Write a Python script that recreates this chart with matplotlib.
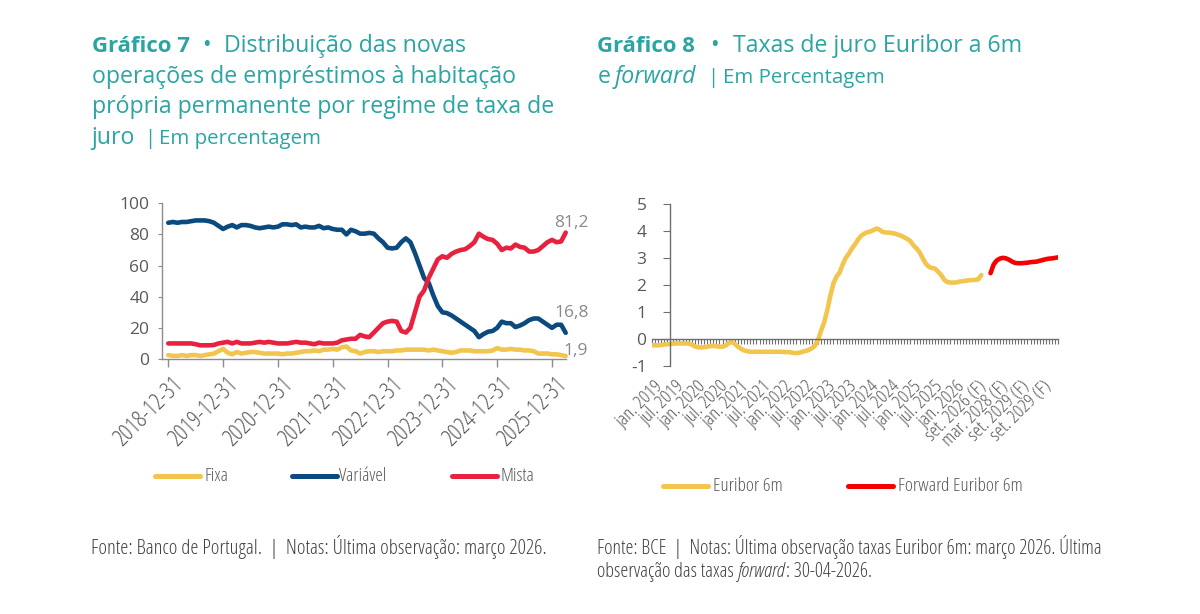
import matplotlib
matplotlib.use('Agg')
import os
import matplotlib.pyplot as plt
from matplotlib import font_manager as fm
from matplotlib.lines import Line2D
from matplotlib.transforms import blended_transform_factory

plt.rcParams['axes.unicode_minus'] = False

# ---------------- data ----------------
left_tick_labels = ['2018-12-31', '2019-12-31', '2020-12-31', '2021-12-31',
                    '2022-12-31', '2023-12-31', '2024-12-31', '2025-12-31']

# monthly, Dec 2018 .. Mar 2026
fixa = [2.5, 2, 2, 2.5, 2, 2.5, 2.5, 2, 2.5, 3, 3.5, 5,
        6.5, 4, 3, 4.5, 3.5, 4, 4.5, 4.5, 4, 3.5, 3.5, 3.5,
        3.5, 3, 3.5, 3.5, 4, 4.5, 5, 5, 5.5, 5, 6, 6,
        6.5, 6, 7.5, 8, 5.5, 5, 3.5, 4.5, 5, 5, 4.5, 5,
        5, 5, 5.5, 5.5, 6, 6, 6, 6, 6, 5.5, 6, 5.5,
        5, 4.5, 4, 4.5, 5.5, 5.5, 5.5, 5, 5, 5, 5, 5.5,
        7, 6, 6, 6.5, 6, 6, 5.5, 5.5, 5, 3.5, 3.5, 3.5,
        3, 3, 2.5, 1.9]

variavel = [87.5, 88, 87.5, 88, 88, 88.5, 89, 89, 89, 88.5, 87.5, 85.5,
            83.5, 85, 86, 84.5, 86, 86, 85.5, 84.5, 84, 84.5, 85, 84.5,
            85, 86.5, 86.5, 86, 86.5, 84.5, 85, 84.5, 84.5, 85.5, 84, 84.5,
            83.5, 83, 83, 80, 83, 82, 80.5, 80.5, 81, 80.5, 77.5, 75,
            71.5, 71, 71.5, 75, 77.5, 75, 68, 60, 52, 49, 41, 34,
            30, 29.5, 28, 26, 24, 22, 20, 18, 14, 16, 17.5, 18,
            20, 24, 23, 23, 20.5, 21.5, 23, 25, 26, 26, 24, 22,
            20, 22, 22, 16.8]

mista = [10, 10, 10, 10, 10, 10, 9.5, 8.8, 8.8, 8.8, 9, 10,
         10.5, 11, 10, 11, 10, 10, 10, 10.5, 11, 10.5, 11, 10.5,
         10, 10, 10, 10.5, 11, 10.5, 10.5, 10, 9.5, 10.5, 10, 10,
         10, 10.5, 12, 12.5, 13, 13, 15.5, 14.5, 14, 17, 20, 23,
         24, 24.5, 24, 18, 17, 20, 30, 40, 44, 52, 58, 64,
         66, 65, 67.5, 69, 70, 70.5, 72.5, 75, 80.5, 78.5, 77, 76.5,
         74, 70, 71.5, 71, 73.5, 72, 71.5, 69, 69, 70, 72.5, 75,
         76.5, 75, 75.5, 81.2]

series_left = ['Fixa', 'Variável', 'Mista']
end_labels = ['1,9', '16,8', '81,2']

right_tick_labels = ['jan. 2019', 'jul. 2019', 'jan. 2020', 'jul. 2020', 'jan. 2021',
                     'jul. 2021', 'jan. 2022', 'jul. 2022', 'jan. 2023', 'jul. 2023',
                     'jan. 2024', 'jul. 2024', 'jan. 2025', 'jul. 2025', 'jan. 2026',
                     'set. 2026 (F)', 'mar. 2028 (F)', 'set. 2029 (F)', 'set. 2029 (F)']

euribor_6m = [-0.25, -0.25, -0.25, -0.24, -0.22, -0.21, -0.2, -0.19, -0.18, -0.18,
              -0.18, -0.18, -0.19, -0.22, -0.29, -0.32, -0.33, -0.32, -0.3, -0.28,
              -0.27, -0.28, -0.3, -0.3, -0.26, -0.17, -0.12, -0.2, -0.3, -0.38,
              -0.44, -0.47, -0.49, -0.49, -0.49, -0.49, -0.49, -0.49, -0.49, -0.49,
              -0.49, -0.49, -0.49, -0.5, -0.5, -0.51, -0.53, -0.54, -0.52, -0.49,
              -0.46, -0.42, -0.36, -0.27, -0.05, 0.3, 0.6, 1.05, 1.6, 2.05,
              2.3, 2.45, 2.75, 3.0, 3.15, 3.35, 3.5, 3.68, 3.82, 3.9,
              3.95, 3.98, 4.03, 4.09, 4.04, 3.96, 3.94, 3.94, 3.92, 3.9,
              3.86, 3.82, 3.76, 3.7, 3.62, 3.46, 3.35, 3.2, 2.98, 2.78,
              2.67, 2.62, 2.6, 2.48, 2.36, 2.18, 2.1, 2.08, 2.08, 2.09,
              2.12, 2.13, 2.15, 2.17, 2.17, 2.18, 2.2, 2.36]

forward_6m = [2.43, 2.75, 2.9, 2.97, 3.0, 2.98, 2.93, 2.86, 2.81, 2.8,
              2.8, 2.81, 2.82, 2.84, 2.85, 2.86, 2.89, 2.92, 2.95, 2.97,
              2.98, 3.0, 3.02]

series_right = ['Euribor 6m', 'Forward Euribor 6m']

# ---------------- style ----------------
W, H = 1200, 614
TEAL = '#2BA5A3'
GREY_TXT = '#595959'
NOTE = '#404040'
C_FIXA, C_VAR, C_MISTA = '#F2C54E', '#0A4A7E', '#E8213F'
C_EUR, C_FWD = '#F2C54E', '#F50000'


def has_font(name):
    try:
        fm.findfont(fm.FontProperties(family=name), fallback_to_default=False)
        return True
    except Exception:
        return False


def font_file(basename):
    for f in fm.fontManager.ttflist:
        if os.path.basename(f.fname) == basename:
            return f.fname
    return None


SANS = 'Open Sans' if has_font('Open Sans') else 'DejaVu Sans'
_cl = font_file('OpenSans-CondLight.ttf')
_cli = font_file('OpenSans-CondLightItalic.ttf')
COND = dict(fontproperties=fm.FontProperties(fname=_cl)) if _cl else dict(family=SANS)
CONDI = dict(fontproperties=fm.FontProperties(fname=_cli)) if _cli else dict(family=SANS, style='italic')

fig = plt.figure(figsize=(W / 100, H / 100), dpi=100)
fig.patch.set_facecolor('white')
R = fig.canvas.get_renderer()


def fx(x):
    return x / W


def fy(y):
    return 1 - y / H


def text_w(s, **kw):
    t = fig.text(0, 0, s, **kw)
    w = t.get_window_extent(R).width
    t.remove()
    return w


def fit(s, target, **kw):
    return 10 * target / text_w(s, fontsize=10, **kw)


# ---------------- titles ----------------
ts = fit('operações de empréstimos à habitação', 425, family=SANS)
tsb = fit('Gráfico 7', 98, family=SANS, weight='bold')
tss = fit('Em percentagem', 162, family=SANS)


def put(x, y, s, size, **kw):
    kw.setdefault('color', TEAL)
    kw.setdefault('family', SANS)
    fig.text(fx(x), fy(y), s, fontsize=size, va='baseline', ha='left', **kw)


put(91.7, 51.7, 'Gráfico 7', tsb, weight='bold')
put(202.5, 51.7, '•', ts)
put(224, 51.7, 'Distribuição das novas', ts)
put(91.7, 82.7, 'operações de empréstimos à habitação', ts)
put(91.7, 113.3, 'própria permanente por regime de taxa de', ts)
put(91.7, 144, 'juro', ts)
put(144, 144, '|', tss)
put(159.3, 144, 'Em percentagem', tss)

put(597.3, 51.7, 'Gráfico 8', tsb, weight='bold')
put(710.5, 51.7, '•', ts)
put(732.7, 51.7, 'Taxas de juro Euribor a 6m', ts)
put(597.3, 82.7, 'e', ts)
put(615, 82.7, 'forward', ts, style='italic')
put(707, 82.7, '|', tss)
put(723.3, 82.7, 'Em Percentagem', tss)

# ---------------- left chart ----------------
ax1 = fig.add_axes([fx(161.7), fy(359), (565.7 - 161.7) / W, (359 - 203.3) / H])
n = len(fixa)
xl = list(range(n))
ax1.set_xlim(-1.44, n - 1)
ax1.set_ylim(0, 100)
for s in ('top', 'right'):
    ax1.spines[s].set_visible(False)
for s in ('left', 'bottom'):
    ax1.spines[s].set_color('#8C8C8C')
    ax1.spines[s].set_linewidth(1.0)
ax1.set_yticks(range(0, 101, 20))
ax1.tick_params(axis='y', length=3, color='#8C8C8C', labelsize=12.5, labelcolor=GREY_TXT, pad=6)
for lab in ax1.get_yticklabels():
    lab.set_family(SANS)
left_tick_pos = list(range(0, n, 12))
ax1.set_xticks(left_tick_pos)
ax1.set_xticklabels([])
ax1.tick_params(axis='x', length=6, color='#8C8C8C', width=1.0)
xs_left = fit('2018-12-31', 88, **COND)
trans1 = blended_transform_factory(ax1.transData, ax1.transAxes)
for p, lab in zip(left_tick_pos, left_tick_labels):
    ax1.text(p + 0.7, -0.09, lab, transform=trans1, rotation=45, ha='right', va='top',
             rotation_mode='anchor', fontsize=xs_left, color=GREY_TXT, clip_on=False, **COND)

lw = 3.3
for vals, col in zip([fixa, variavel, mista], [C_FIXA, C_VAR, C_MISTA]):
    ax1.plot(xl, vals, color=col, lw=lw, solid_capstyle='round', solid_joinstyle='round',
             clip_on=False)

offs = [(10, 5), (6, 20), (6, 10)]
for vals, lab, off in zip([fixa, variavel, mista], end_labels, offs):
    ax1.annotate(lab, xy=(n - 1, vals[-1]), xytext=off, textcoords='offset pixels',
                 ha='center', va='center', fontsize=12.5, family=SANS, color='#8A8A8A')

# left legend
ls = fit('Mista', 34, **COND)
leg_left = [(155, 200, 204, C_FIXA), (292, 337, 339, C_VAR), (452, 497, 501, C_MISTA)]
for (x0, x1, xt, col), name in zip(leg_left, series_left):
    fig.add_artist(Line2D([fx(x0), fx(x1)], [fy(476), fy(476)], color=col, lw=3.6,
                          solid_capstyle='round'))
    fig.text(fx(xt), fy(476), name, fontsize=ls, color=GREY_TXT,
             va='center', ha='left', **COND)

# ---------------- right chart ----------------
ax2 = fig.add_axes([fx(651.7), fy(365.5), 406.6 / W, 161.5 / H])
ncat = 133
ax2.set_xlim(0, ncat - 1)
ax2.set_ylim(-1, 5)
for s in ('top', 'right'):
    ax2.spines[s].set_visible(False)
ax2.spines['left'].set_position(('data', 6))
ax2.spines['bottom'].set_position(('data', 0))
for s in ('left', 'bottom'):
    ax2.spines[s].set_color('#6E6E6E')
    ax2.spines[s].set_linewidth(1.0)
ax2.set_yticks(range(-1, 6))
ax2.tick_params(axis='y', length=5, color='#6E6E6E', labelsize=12.5, labelcolor=GREY_TXT, pad=12)
for lab in ax2.get_yticklabels():
    lab.set_family(SANS)
ax2.set_xticks(range(ncat))
ax2.set_xticklabels([])
ax2.tick_params(axis='x', length=3.5, color='#6E6E6E', width=0.8)

FORWARD_START = 110
ax2.plot(range(len(euribor_6m)), euribor_6m, color=C_EUR, lw=3.3, solid_capstyle='round',
         solid_joinstyle='round')
ax2.plot(range(FORWARD_START, FORWARD_START + len(forward_6m)), forward_6m, color=C_FWD,
         lw=3.3, solid_capstyle='round', solid_joinstyle='round')

xs_right = fit('jan. 2019', 58, **COND)
trans2 = blended_transform_factory(ax2.transData, ax2.transAxes)
for i, lab in enumerate(right_tick_labels):
    ax2.text(i * 7 + 0.6, -0.07, lab, transform=trans2, rotation=45, ha='right', va='top',
             rotation_mode='anchor', fontsize=xs_right, color=GREY_TXT, clip_on=False, **COND)

# right legend
lsr = fit('Euribor 6m', 70, **COND)
leg_right = [(663.3, 708.3, 712.7, C_EUR), (848.3, 893.3, 897.7, C_FWD)]
for (x0, x1, xt, col), name in zip(leg_right, series_right):
    fig.add_artist(Line2D([fx(x0), fx(x1)], [fy(485.7), fy(485.7)], color=col, lw=3.6,
                          solid_capstyle='round'))
    fig.text(fx(xt), fy(485.7), name, fontsize=lsr, color=GREY_TXT,
             va='center', ha='left', **COND)

# ---------------- footnotes ----------------
note_left = 'Fonte: Banco de Portugal.  |  Notas: Última observação: março 2026.'
note_right1 = 'Fonte: BCE  |  Notas: Última observação taxas Euribor 6m: março 2026. Última'
fs = fit(note_left, 455, **COND)
fsr = fit(note_right1, 507, **COND)
fig.text(fx(91), fy(554), note_left, fontsize=fs, color=NOTE, va='baseline', **COND)
fig.text(fx(597), fy(554), note_right1, fontsize=fsr, color=NOTE, va='baseline', **COND)
p1 = 'observação das taxas'
p2 = 'forward'
p3 = ': 30-04-2026.'
sp = text_w('a a', fontsize=fsr, **COND) - text_w('aa', fontsize=fsr, **COND)
x = 597
fig.text(fx(x), fy(577), p1, fontsize=fsr, color=NOTE, va='baseline', **COND)
x += text_w(p1, fontsize=fsr, **COND) + sp
fig.text(fx(x), fy(577), p2, fontsize=fsr, color=NOTE, va='baseline', **CONDI)
x += text_w(p2, fontsize=fsr, **CONDI) + 1
fig.text(fx(x), fy(577), p3, fontsize=fsr, color=NOTE, va='baseline', **COND)

fig.savefig('out.png', dpi=100, facecolor='white')
